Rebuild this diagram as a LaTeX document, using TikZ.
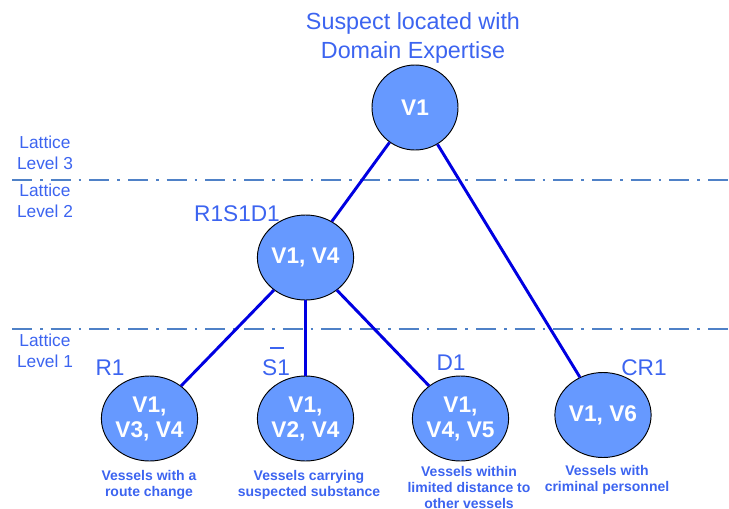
\documentclass[tikz,border=0pt]{standalone}
\usepackage{fontspec}
\setmainfont{Liberation Sans}
\usetikzlibrary{shapes.geometric}
\definecolor{txtblue}{RGB}{60,100,240}
\definecolor{lineblue}{RGB}{79,129,199}
\definecolor{edgeblue}{RGB}{0,0,225}
\definecolor{fillblue}{RGB}{102,153,255}
\tikzset{
  vnode/.style={ellipse, draw=black, line width=0.7pt, fill=fillblue, minimum width=64.5pt, minimum height=63.75pt, inner sep=0pt, text=white, font=\bfseries\fontsize{17}{18.75}\selectfont, align=center},
  lvl/.style={text=txtblue, font=\fontsize{13}{15.75}\selectfont, align=center},
  lbl/.style={text=txtblue, font=\fontsize{17}{20}\selectfont},
  desc/.style={text=txtblue, font=\bfseries\fontsize{10.5}{12}\selectfont, align=center},
  title/.style={text=txtblue, font=\fontsize{17.5}{21.75}\selectfont, align=center},
  edge/.style={edgeblue, line width=2.2pt},
  levelline/.style={lineblue, line width=1.5pt, dash pattern=on 15pt off 6pt on 2pt off 6pt}
}
\begin{document}
\begin{tikzpicture}[x=0.75pt,y=-0.75pt]
\useasboundingbox (0,0) rectangle (729,508);
% level lines
\coordinate (l2a) at (12,180); \coordinate (l2b) at (729,180);
\coordinate (l1a) at (12,329); \coordinate (l1b) at (729,329);
\draw[levelline] (l2a) -- (l2b);
\draw[levelline] (l1a) -- (l1b);
% title
\node[title] (title) at (413,38) {Suspect located with\\Domain Expertise};
% level labels
\node[lvl] (lv3) at (45,152.5) {Lattice\\Level 3};
\node[lvl] (lv2) at (45,201) {Lattice\\Level 2};
\node[lvl] (lv1) at (45,350.5) {Lattice\\Level 1};
% nodes
\node[vnode] (top) at (415,107.5) {V1};
\node[vnode] (mid) at (305.5,257.5) {V1, V4};
\node[vnode] (r1) at (149.5,418.5) {V1,\\V3, V4};
\node[vnode] (s1) at (305.5,418.5) {V1,\\V2, V4};
\node[vnode] (d1) at (460.5,418.5) {V1,\\V4, V5};
\node[vnode] (cr1) at (603,415) {V1, V6};
% edges
\draw[edge] (top) -- (mid);
\draw[edge] (top) -- (cr1);
\draw[edge] (mid) -- (r1);
\draw[edge] (mid) -- (s1);
\draw[edge] (mid) -- (d1);
% labels
\node[lbl] (lmid) at (237,214) {R1S1D1};
\node[lbl] (lr1) at (110,368) {R1};
\node[lbl] (ls1) at (276,368) {S1};
\node[lbl] (ld1) at (451,363) {D1};
\node[lbl] (lcr1) at (644,368) {CR1};
\coordinate (ovA) at (270,348); \coordinate (ovB) at (284,348);
\draw[txtblue, line width=1pt] (ovA) -- (ovB);
% descriptions
\node[desc] (dr1) at (149,484.5) {Vessels with a\\route change};
\node[desc] (ds1) at (309,484.5) {Vessels carrying\\suspected substance};
\node[desc] (dd1) at (469,487.5) {Vessels within\\limited distance to\\other vessels};
\node[desc] (dcr1) at (607,479.5) {Vessels with\\criminal personnel};
\end{tikzpicture}
\end{document}
